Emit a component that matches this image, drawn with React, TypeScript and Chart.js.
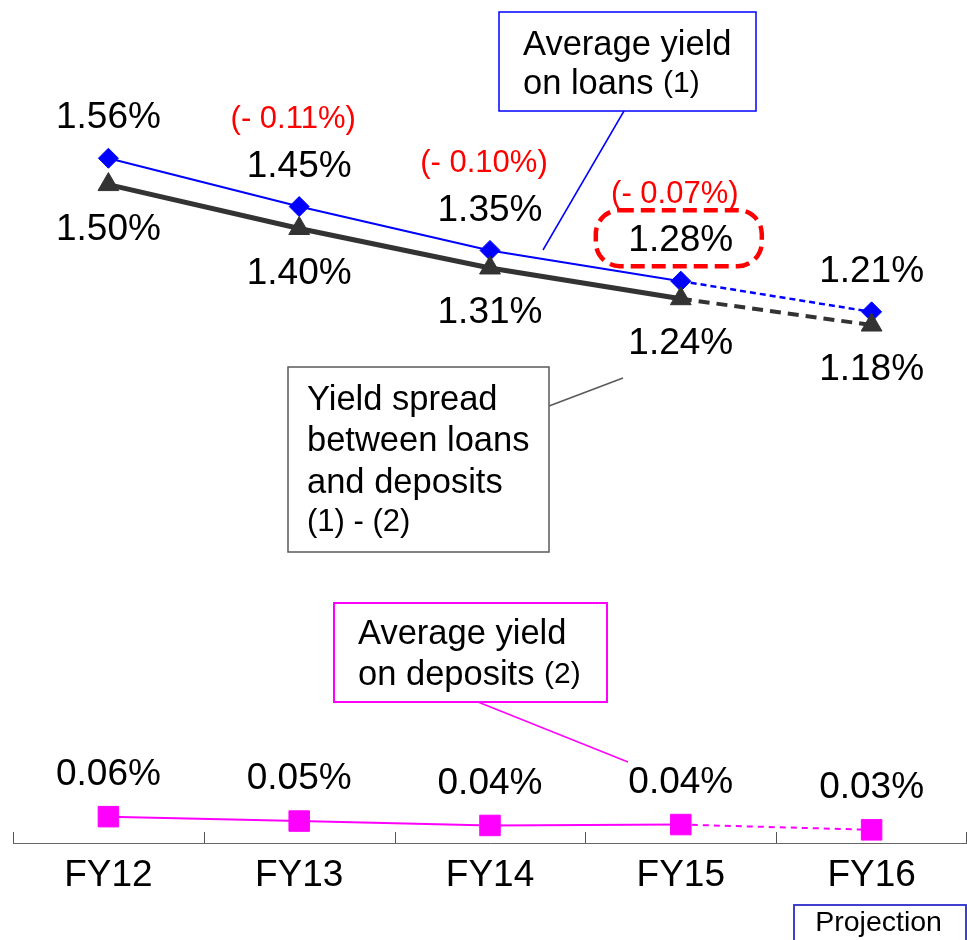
import React, { useEffect, useRef } from "react";
import { Chart, registerables } from "chart.js";

Chart.register(...registerables);

const categories = ["FY12", "FY13", "FY14", "FY15", "FY16"];
const loanYield = [1.56, 1.45, 1.35, 1.28, 1.21];
const spreadYield = [1.5, 1.4, 1.31, 1.24, 1.18];
const depositYield = [0.06, 0.05, 0.04, 0.042, 0.03];
const loanLabels = ["1.56%", "1.45%", "1.35%", "1.28%", "1.21%"];
const spreadLabels = ["1.50%", "1.40%", "1.31%", "1.24%", "1.18%"];
const depositLabels = ["0.06%", "0.05%", "0.04%", "0.04%", "0.03%"];
const changeLabels = ["", "(- 0.11%)", "(- 0.10%)", "(- 0.07%)", ""];
const highlightIndex = 3;
const projectionIndex = 4;

const FONT = '"Liberation Sans", Arial, Helvetica, sans-serif';
const W = 967;
const H = 940;

function drawMixed(ctx: CanvasRenderingContext2D, x: number, y: number, parts: [string, number][]) {
  let cx = x;
  ctx.textAlign = "left";
  ctx.textBaseline = "middle";
  for (const [t, size] of parts) {
    ctx.font = `${size}px ${FONT}`;
    ctx.fillText(t, cx, y);
    cx += ctx.measureText(t).width;
  }
}

function box(ctx: CanvasRenderingContext2D, x0: number, y0: number, x1: number, y1: number, color: string, lw: number) {
  ctx.save();
  ctx.fillStyle = "#ffffff";
  ctx.fillRect(x0, y0, x1 - x0, y1 - y0);
  ctx.strokeStyle = color;
  ctx.lineWidth = lw;
  ctx.strokeRect(x0, y0, x1 - x0, y1 - y0);
  ctx.restore();
}

function line(ctx: CanvasRenderingContext2D, x0: number, y0: number, x1: number, y1: number, color: string, lw: number) {
  ctx.save();
  ctx.strokeStyle = color;
  ctx.lineWidth = lw;
  ctx.beginPath();
  ctx.moveTo(x0, y0);
  ctx.lineTo(x1, y1);
  ctx.stroke();
  ctx.restore();
}

const overlayPlugin = {
  id: "overlay",
  beforeDatasetsDraw(chart: any) {
    const ctx: CanvasRenderingContext2D = chart.ctx;
    const xs = chart.scales.x;
    // tick marks pointing up from the axis line
    ctx.save();
    ctx.strokeStyle = "#555555";
    ctx.lineWidth = 1;
    for (let i = 0; i <= categories.length; i++) {
      const px = Math.min(Math.round(xs.getPixelForValue(i - 0.5)), W - 1) + 0.5;
      ctx.beginPath();
      ctx.moveTo(px, xs.top - 11);
      ctx.lineTo(px, xs.top);
      ctx.stroke();
    }
    ctx.restore();

    // callout lines
    line(ctx, 624, 111, 543, 250, "#0000ff", 1.5);
    line(ctx, 549, 406, 623, 378, "#595959", 1.5);
    line(ctx, 478, 702, 628, 762, "#ff00ff", 1.5);
  },
  afterDatasetsDraw(chart: any) {
    const ctx: CanvasRenderingContext2D = chart.ctx;
    const metaSpread = chart.getDatasetMeta(0);
    const metaLoan = chart.getDatasetMeta(1);
    const metaDep = chart.getDatasetMeta(2);

    ctx.save();
    ctx.textAlign = "center";
    ctx.textBaseline = "middle";
    for (let i = 0; i < categories.length; i++) {
      const pl = metaLoan.data[i];
      const ps = metaSpread.data[i];
      const pd = metaDep.data[i];
      ctx.fillStyle = "#000000";
      ctx.font = `37px ${FONT}`;
      ctx.fillText(loanLabels[i], pl.x, pl.y - 40);
      ctx.fillText(spreadLabels[i], ps.x, ps.y + 45);
      ctx.fillText(depositLabels[i], pd.x, pd.y - 42);
      if (changeLabels[i]) {
        ctx.fillStyle = "#ff0000";
        ctx.font = `31px ${FONT}`;
        ctx.fillText(changeLabels[i], pl.x - 6, pl.y - 87);
      }
    }
    // highlight around the FY15 loan label
    const ph = metaLoan.data[highlightIndex];
    const cx = ph.x - 2;
    const cy = ph.y - 43;
    ctx.strokeStyle = "#ff0000";
    ctx.lineWidth = 4.5;
    ctx.setLineDash([14, 7]);
    ctx.beginPath();
    (ctx as any).roundRect(cx - 83, cy - 28, 166, 56, 24);
    ctx.stroke();
    ctx.setLineDash([]);
    ctx.restore();

    // annotation boxes
    ctx.save();
    box(ctx, 499, 12, 756, 111, "#0000ff", 1.5);
    ctx.fillStyle = "#000000";
    drawMixed(ctx, 523, 45, [["Average yield", 34.5]]);
    drawMixed(ctx, 523, 84, [["on loans ", 34.5], ["(1)", 30]]);

    box(ctx, 288, 367, 549, 552, "#595959", 1.5);
    ctx.fillStyle = "#000000";
    drawMixed(ctx, 307, 400, [["Yield spread", 34.5]]);
    drawMixed(ctx, 307, 441, [["between loans", 34.5]]);
    drawMixed(ctx, 307, 483, [["and deposits", 34.5]]);
    drawMixed(ctx, 307, 522, [["(1) - (2)", 31]]);

    box(ctx, 334, 603, 607, 702, "#ff00ff", 2);
    ctx.fillStyle = "#000000";
    drawMixed(ctx, 358, 634, [["Average yield", 34.5]]);
    drawMixed(ctx, 358, 675, [["on deposits ", 34.5], ["(2)", 30]]);

    // projection tag under FY16
    const pp = metaLoan.data[projectionIndex];
    box(ctx, 794, 905, 966, 948, "#3f3fd0", 2);
    ctx.fillStyle = "#000000";
    ctx.font = `28.5px ${FONT}`;
    ctx.textAlign = "center";
    ctx.textBaseline = "middle";
    ctx.fillText("Projection", pp.x + 7, 923);
    ctx.restore();
  },
};

const lastDash = (dash: number[]) => (c: any) => (c.p1DataIndex === projectionIndex ? dash : undefined);

export default function App() {
  const ref = useRef<HTMLCanvasElement | null>(null);

  useEffect(() => {
    if (!ref.current) return;
    const chart = new Chart(ref.current, {
      type: "line",
      data: {
        labels: categories,
        datasets: [
          {
            label: "Yield spread between loans and deposits (1) - (2)",
            data: spreadYield,
            borderColor: "#333333",
            backgroundColor: "#333333",
            borderWidth: 5,
            pointStyle: "triangle",
            pointRadius: 12,
            pointBorderWidth: 1,
            pointBorderColor: "#333333",
            segment: {
              borderDash: lastDash([11, 7]),
              borderWidth: (c: any) => (c.p1DataIndex === projectionIndex ? 4 : 5),
            },
          },
          {
            label: "Average yield on loans (1)",
            data: loanYield,
            borderColor: "#0000ff",
            backgroundColor: "#0000ff",
            borderWidth: 2,
            pointStyle: "rectRot",
            pointRadius: 10,
            pointBorderWidth: 1,
            pointBorderColor: "#0000ff",
            segment: {
              borderDash: lastDash([6, 4]),
              borderWidth: (c: any) => (c.p1DataIndex === projectionIndex ? 2.5 : 2),
            },
          },
          {
            label: "Average yield on deposits (2)",
            data: depositYield,
            borderColor: "#ff00ff",
            backgroundColor: "#ff00ff",
            borderWidth: 2,
            pointStyle: "rect",
            pointRadius: 14.5,
            pointBorderWidth: 1,
            pointBorderColor: "#ff00ff",
            segment: {
              borderDash: lastDash([6, 5]),
            },
          },
        ],
      },
      options: {
        animation: false,
        responsive: false,
        devicePixelRatio: 1,
        clip: false,
        layout: { autoPadding: false, padding: { left: 13, top: 9, right: 0, bottom: 0 } },
        plugins: {
          legend: { display: false },
          title: { display: false },
          tooltip: { enabled: false },
        },
        scales: {
          x: {
            offset: true,
            grid: { display: false, drawTicks: false },
            border: { display: true, color: "#666666", width: 1 },
            ticks: {
              color: "#000000",
              padding: 11,
              font: { family: FONT, size: 37 },
            },
            afterFit: (scale: any) => {
              scale.height = 97;
            },
          },
          y: {
            display: false,
            min: 0,
            max: 1.9,
          },
        },
      },
      plugins: [overlayPlugin],
    });
    return () => chart.destroy();
  }, []);

  return (
    <div style={{ position: "absolute", left: 0, top: 0, width: W, height: H, background: "#ffffff" }}>
      <canvas ref={ref} width={W} height={H} style={{ display: "block" }} />
    </div>
  );
}
